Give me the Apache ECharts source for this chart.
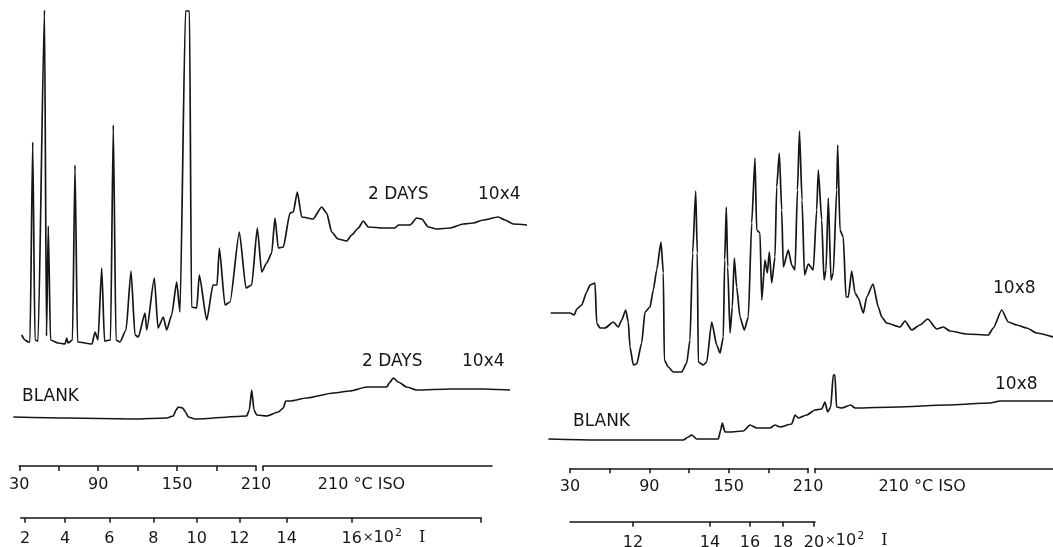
<!DOCTYPE html>
<html>
<head>
<meta charset="utf-8">
<script src="https://cdn.jsdelivr.net/npm/echarts@6/dist/echarts.min.js"></script>
<style>
html,body{margin:0;padding:0;background:#fff}
#main{width:1053px;height:547px}
</style>
</head>
<body>
<div id="main"></div>
<script>
// traces: [time (min, 4 °C/min program), detector response (arbitrary)]
var leftSample = [[0.46,115],[1.08,110],[1.71,108],[2.03,108],[2.55,308],[2.98,110],[3.56,109],[4.79,440],[5.17,114],[5.51,224],[5.93,110],[7.36,107],[8.69,106],[9.01,112],[9.26,107],[10.11,110],[10.59,285],[11.07,108],[13.82,106],[14.39,118],[14.96,110],[15.67,182],[16.2,109],[17.34,110],[17.87,325],[18.38,110],[19.14,108],[20.29,120],[21.24,179],[21.99,115],[22.62,113],[23.9,137],[24.22,120],[25.67,172],[26.37,122],[27.38,133],[28.02,120],[28.97,135],[29.92,168],[30.55,138],[31.6,439],[32.36,439],[32.74,143],[33.73,142],[34.22,175],[35.63,130],[36.83,165],[37.59,165],[38.03,202],[39.1,145],[40.06,148],[41.83,218],[43.1,162],[44.18,165],[45.25,222],[46.08,178],[47.03,187],[47.98,197],[48.61,232],[49.24,202],[50.19,203],[51.46,237],[52.09,238],[52.85,258],[53.69,233],[55.84,231],[57.49,243],[58.44,237],[59.39,218],[60.59,211],[62.24,209],[63.19,215],[64.45,222],[65.4,229],[66.35,223],[69.2,222],[71.43,222],[72.05,225],[74.28,225],[75.55,232],[76.5,231],[77.76,223],[79.35,221],[81.88,222],[84.41,226],[86.31,227],[88.21,230],[91.06,233],[92.34,230],[93.92,226],[96.52,225]];
var leftBlank = [[-1.14,33],[9.01,32],[21.6,31],[28.02,32],[29.28,34],[29.8,40],[30.23,43],[31.06,42],[31.6,38],[32.13,33],[33.4,31],[43.23,34],[43.73,40],[44.18,60],[44.62,40],[45.13,35],[47.03,34],[49.24,38],[50.19,42],[50.65,49],[51.46,49],[54.64,52],[59.7,57],[62.87,59],[66.05,63],[69.85,63],[70.34,67],[71.1,72],[72.05,68],[73.65,63],[75.55,60],[81.88,61],[88.21,61],[93.29,60]];
var rightSample = [[-3.65,137],[0,137],[0.81,135],[1.27,141],[2.21,145],[3.16,158],[3.78,165],[4.73,167],[5.05,127],[5.67,122],[6.62,122],[8.19,128],[9.13,123],[9.77,130],[10.53,140],[11.02,128],[11.34,103],[11.97,85],[12.61,86],[13.55,107],[14.18,138],[15.12,143],[15.75,160],[16.39,180],[17.2,208],[17.64,177],[17.83,90],[18.58,83],[19.53,78],[21.12,78],[22.06,87],[22.68,110],[23.19,197],[23.76,259],[24.06,197],[24.25,88],[25.2,85],[25.84,88],[26.79,128],[27.73,105],[28.36,97],[28.98,113],[29.24,190],[29.55,243],[29.81,183],[30.25,117],[30.68,143],[31.06,192],[31.51,163],[32.14,133],[32.95,120],[33.71,133],[34.35,227],[34.97,292],[35.29,220],[35.92,217],[36.24,150],[36.86,190],[37.3,177],[37.68,198],[38.13,167],[38.75,193],[39.07,263],[39.57,297],[40.02,240],[40.32,183],[41.27,200],[41.91,185],[42.53,180],[43.0,260],[43.38,319],[43.86,250],[44.33,175],[45.05,186],[45.99,180],[46.63,240],[46.94,280],[47.58,230],[48.02,170],[48.39,180],[48.83,252],[49.34,170],[49.77,177],[50.42,260],[50.6,305],[51.04,220],[51.66,213],[52.17,153],[52.61,153],[53.25,179],[53.88,157],[54.5,152],[55.45,137],[56.09,153],[57.28,166],[58.28,143],[58.93,133],[59.87,127],[62.38,123],[63.33,129],[64.59,120],[66.16,125],[67.62,131],[69.32,121],[70.57,123],[71.83,119],[74.99,116],[79.07,115],[80.02,122],[81.61,140],[82.85,128],[84.44,125],[86.33,122],[88.22,117],[91.3,113]];
var rightBlank = [[-4.1,11],[5.05,10],[21.42,10],[22.36,13],[23.01,15],[23.95,11],[28.03,11],[28.49,20],[28.79,27],[29.3,18],[30.25,18],[32.76,19],[34.03,25],[35.29,22],[37.81,22],[38.75,25],[39.7,23],[41.91,26],[42.53,35],[43.16,32],[44.74,35],[46.31,40],[47.58,41],[48.2,48],[48.71,38],[49.28,43],[49.77,75],[50.09,75],[50.38,43],[51.36,42],[53.06,45],[53.88,42],[61.76,43],[71.21,45],[79.4,47],[81.29,49],[91.3,49]];

// temperature scale (°C) and retention index scale (x10^2, at time in min)
var tempLabels = [30, 90, 150, 210];
var isoText = '210 °C ISO';
var riLeftTime = [1.08, 8.69, 17.11, 25.48, 33.73, 41.83, 50.84, 63.19, 87.78];
var riLeftLabel = ['2', '4', '6', '8', '10', '12', '14', '16', ''];
var riRightTime = [11.91, 26.47, 34.03, 40.26, 46.12];
var riRightLabel = ['12', '14', '16', '18', '20'];
var riUnit = '{mx|×}{n|10}{sup|2}{gap|}{i|I}';

var myChart = echarts.init(document.getElementById('main'));
var ink = '#161616';
var font = 'DejaVu Sans';

// px origin (t=0, 30 °C) and px per min for each panel
var P = {left: {x0: 19.3, s: 5.26}, right: {x0: 570, s: 5.29}};

function gridAt(p, t1, t2, top, h) {
  return {left: p.x0 + t1 * p.s, top: top, width: (t2 - t1) * p.s, height: h,
          containLabel: false, outerBoundsMode: 'none'};
}

var grids = [
  gridAt(P.left, -1.5, 97, 0, 450),
  gridAt(P.right, -4.2, 91.4, 0, 450),
  gridAt(P.left, 0, 45, 465, 1),
  gridAt(P.left, 46.33, 89.87, 465, 1),
  gridAt(P.left, 0.27, 87.78, 516.7, 1),
  gridAt(P.right, 0, 45, 467.3, 1),
  gridAt(P.right, 46.31, 91.3, 467.3, 1),
  gridAt(P.right, 0, 46.31, 520.7, 1)
];

var unitRich = {
  mx: {fontSize: 13, fontFamily: font, fill: ink},
  n: {fontSize: 16, fontFamily: font, fill: ink},
  sup: {fontSize: 11, fontFamily: font, fill: ink, padding: [0, 0, 9, 1]},
  gap: {width: 17},
  i: {fontSize: 16, fontFamily: 'DejaVu Serif', fill: ink}
};

function barAxis(gi, min, max) {
  return {
    type: 'value', gridIndex: gi, min: min, max: max, position: 'bottom',
    axisLine: {show: true, onZero: false, lineStyle: {color: ink, width: 1.5}},
    axisTick: {show: true, length: 5, lineStyle: {color: ink, width: 1.5}},
    splitLine: {show: false},
    axisLabel: {color: ink, fontFamily: font, fontSize: 16, margin: 11,
                showMinLabel: true, showMaxLabel: true, hideOverlap: false}
  };
}

function tempAxis(gi) {
  var a = barAxis(gi, 30, 210);
  a.interval = 30;
  a.axisLabel.formatter = function (v) { return tempLabels.indexOf(v) >= 0 ? String(v) : ''; };
  return a;
}

function isoAxis(gi, t1, t2, frac) {
  var a = barAxis(gi, t1, t2);
  a.axisTick.customValues = [t1];
  a.axisLabel.customValues = [t1 + (t2 - t1) * frac];
  a.axisLabel.formatter = function () { return isoText; };
  return a;
}

function riAxis(gi, t1, t2, times, labels) {
  var a = barAxis(gi, t1, t2);
  a.axisTick.customValues = times;
  a.axisLabel.customValues = times;
  a.axisLabel.margin = 13;
  a.axisLabel.formatter = function (v) {
    for (var i = 0; i < times.length; i++) {
      if (Math.abs(times[i] - v) < 1e-6) return labels[i];
    }
    return '';
  };
  return a;
}

var xAxes = [
  {type: 'value', gridIndex: 0, min: -1.5, max: 97, show: false},
  {type: 'value', gridIndex: 1, min: -4.2, max: 91.4, show: false},
  tempAxis(2),
  isoAxis(3, 46.33, 89.87, 0.43),
  riAxis(4, 0.27, 87.78, riLeftTime, riLeftLabel),
  tempAxis(5),
  isoAxis(6, 46.31, 91.3, 0.45),
  riAxis(7, 0, 46.31, riRightTime, riRightLabel)
];

var yAxes = [];
for (var g = 0; g < grids.length; g++) {
  yAxes.push({type: 'value', gridIndex: g, min: 0, max: g < 2 ? 450 : 1, show: false});
}

function trace(data, gi) {
  return {type: 'line', xAxisIndex: gi, yAxisIndex: gi, data: data, showSymbol: false,
          smooth: 0.2, smoothMonotone: 'x',
          lineStyle: {color: ink, width: 1.7}, silent: true};
}

function note(text, x, y) {
  return {type: 'text', style: {text: text, x: x, y: y, fill: ink, fontSize: 17,
          fontFamily: font, verticalAlign: 'middle', align: 'left'}};
}

// "×10² I" unit text placed just right of the last numbered index tick
function unitNote(p, t, y) {
  return {type: 'text', style: {text: riUnit, rich: unitRich, x: p.x0 + t * p.s + 11, y: y,
          fill: ink, fontSize: 16, fontFamily: font, verticalAlign: 'middle', align: 'left'}};
}

var option = {
  animation: false,
  backgroundColor: '#fff',
  grid: grids,
  xAxis: xAxes,
  yAxis: yAxes,
  series: [
    trace(leftSample, 0),
    trace(leftBlank, 0),
    trace(rightSample, 1),
    trace(rightBlank, 1)
  ],
  graphic: [
    note('2 DAYS', 368, 195),
    note('10x4', 478, 195),
    note('BLANK', 22, 397),
    note('2 DAYS', 362, 362),
    note('10x4', 462, 362),
    note('10x8', 993, 289),
    note('BLANK', 573, 422),
    note('10x8', 995, 385),
    unitNote(P.left, riLeftTime[7], 538),
    unitNote(P.right, riRightTime[4], 541)
  ]
};

myChart.setOption(option);
</script>
</body>
</html>
